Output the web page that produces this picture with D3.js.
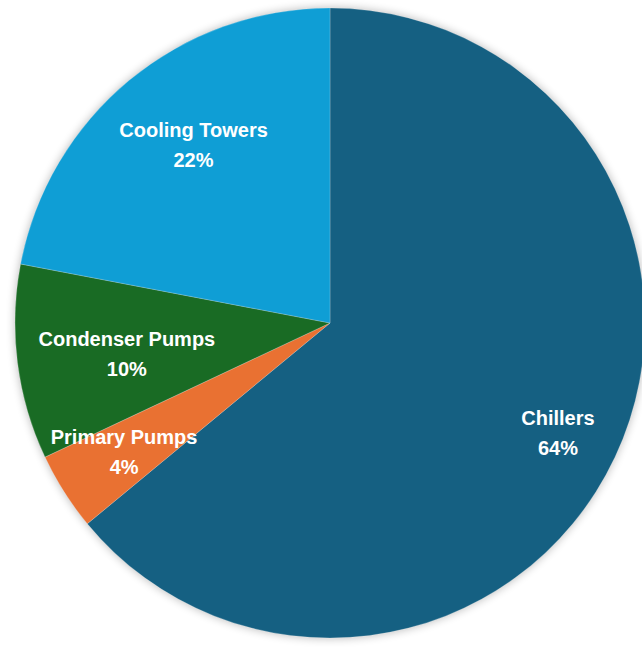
<!DOCTYPE html>
<html>
<head>
<meta charset="utf-8">
<script src="https://cdn.jsdelivr.net/npm/d3@7"></script>
<style>
  html, body { margin: 0; padding: 0; background: #ffffff; }
  svg { display: block; }
</style>
</head>
<body>
<svg id="chart" width="642" height="655"></svg>
<script>
// Cooling plant energy split by equipment type
const categories = ["Chillers", "Primary Pumps", "Condenser Pumps", "Cooling Towers"];
const shares = [64, 4, 10, 22];
const colors = ["#156082", "#E97132", "#196B24", "#0F9ED5"];

// Label placement per slice: fraction of the radius and a small angular nudge (degrees)
const labelPlacement = {
  "Chillers":        { frac: 0.797, nudge: -0.4 },
  "Primary Pumps":   { frac: 0.763, nudge: 1.35 },
  "Condenser Pumps": { frac: 0.65,  nudge: 0 },
  "Cooling Towers":  { frac: 0.725, nudge: 2.9 }
};

const width = 642, height = 655;
const cx = 330, cy = 323, r = 315;

const svg = d3.select("#chart");

const defs = svg.append("defs");
const shadow = defs.append("filter")
  .attr("id", "pieShadow")
  .attr("x", "-20%").attr("y", "-20%")
  .attr("width", "140%").attr("height", "140%");
shadow.append("feGaussianBlur").attr("stdDeviation", 5);

const g = svg.append("g").attr("transform", `translate(${cx},${cy})`);

// soft glow around the pie
g.append("circle")
  .attr("r", r)
  .attr("fill", "#000")
  .attr("opacity", 0.28)
  .attr("filter", "url(#pieShadow)");

const data = categories.map((c, i) => ({ name: c, value: shares[i], color: colors[i] }));

const pie = d3.pie().value(d => d.value).sort(null);
const arcs = pie(data);
const arc = d3.arc().innerRadius(0).outerRadius(r);

g.selectAll("path.slice")
  .data(arcs)
  .enter().append("path")
  .attr("class", "slice")
  .attr("d", arc)
  .attr("fill", d => d.data.color)
  .attr("stroke", "#ffffff")
  .attr("stroke-opacity", 0.35)
  .attr("stroke-width", 0.6);

const labels = g.selectAll("text.label")
  .data(arcs)
  .enter().append("text")
  .attr("class", "label")
  .attr("transform", d => {
    const p = labelPlacement[d.data.name];
    const lr = r * p.frac;
    const a = (d.startAngle + d.endAngle) / 2 + p.nudge * Math.PI / 180;
    return `translate(${lr * Math.sin(a)},${-lr * Math.cos(a)})`;
  })
  .attr("text-anchor", "middle")
  .attr("fill", "#ffffff")
  .style("font-family", "'Liberation Sans', Arial, sans-serif")
  .style("font-weight", "bold")
  .style("font-size", "20px");

labels.append("tspan")
  .attr("x", 0).attr("dy", "-0.15em")
  .text(d => d.data.name);
labels.append("tspan")
  .attr("x", 0).attr("dy", "1.5em")
  .text(d => d.data.value + "%");
</script>
</body>
</html>
